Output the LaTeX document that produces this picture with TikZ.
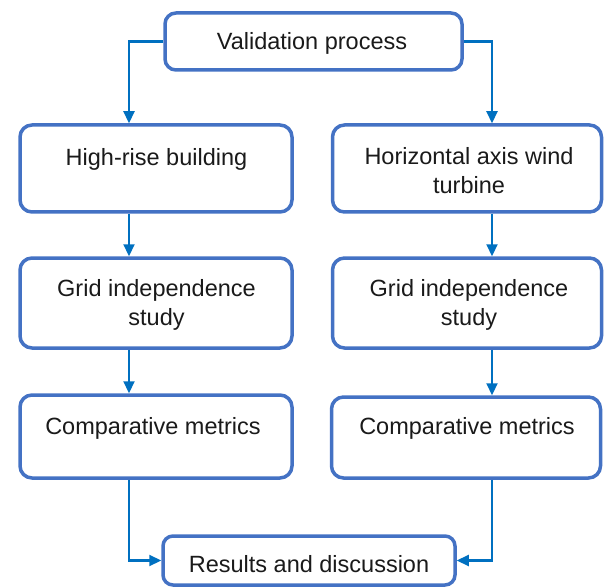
\documentclass[tikz,border=0pt]{standalone}
\usepackage{fontspec}
\setmainfont{Liberation Sans}
\usetikzlibrary{arrows.meta}
\definecolor{boxblue}{HTML}{4472C4}
\definecolor{arrblue}{HTML}{0070C0}
\definecolor{txt}{HTML}{1A1A1A}
\tikzset{
  box/.style={draw=boxblue, line width=3.5pt, rounded corners=12pt, fill=white, inner sep=0pt},
  lbl/.style={text=txt, font=\fontsize{23.5}{29}\selectfont, align=center, inner sep=0pt},
  conn/.style={draw=arrblue, line width=2.2pt, -{Triangle[length=12pt,width=11pt]}}
}
\begin{document}
\begin{tikzpicture}[x=1pt,y=-1pt]
\useasboundingbox (0,0) rectangle (605,588);
% boxes
\node[box, minimum width=297pt, minimum height=57pt, rounded corners=11pt] (vp) at (313.5,41.5) {};
\node[box, minimum width=272pt, minimum height=87pt] (hr) at (156,168.5) {};
\node[box, minimum width=272pt, minimum height=90pt] (gl) at (156,303) {};
\node[box, minimum width=272pt, minimum height=83pt] (cl) at (156,436.5) {};
\node[box, minimum width=269pt, minimum height=87pt] (hw) at (467,168.5) {};
\node[box, minimum width=269pt, minimum height=90pt] (gr) at (467,303) {};
\node[box, minimum width=269pt, minimum height=81pt] (cr) at (466,437.5) {};
\node[box, minimum width=292pt, minimum height=49pt, rounded corners=10pt] (rd) at (309,560.5) {};
% texts
\node[lbl] (tvp) at (312,43.5) {Validation process};
\node[lbl] (thr) at (156.5,159.5) {High-rise building};
\node[lbl] (tgl) at (156.5,305) {Grid independence\\study};
\node[lbl] (tcl) at (153,428.5) {Comparative metrics};
\node[lbl] (thw) at (469,171) {Horizontal axis wind\\turbine};
\node[lbl] (tgr) at (469,305) {Grid independence\\study};
\node[lbl] (tcr) at (467,428.5) {Comparative metrics};
\node[lbl] (trd) at (309,564.5) {Results and discussion};
% connector columns
\coordinate (cL) at (129,0);
\coordinate (cR) at (492,0);
\draw[conn] (vp.west) -| (hr.north -| cL);
\draw[conn] (vp.east) -| (hw.north -| cR);
\draw[conn] (hr.south -| cL) -- (gl.north -| cL);
\draw[conn] (gl.south -| cL) -- (cl.north -| cL);
\draw[conn] (hw.south -| cR) -- (gr.north -| cR);
\draw[conn] (gr.south -| cR) -- (cr.north -| cR);
\draw[conn] (cl.south -| cL) |- (rd.west);
\draw[conn] (cr.south -| cR) |- (rd.east);
\end{tikzpicture}
\end{document}
